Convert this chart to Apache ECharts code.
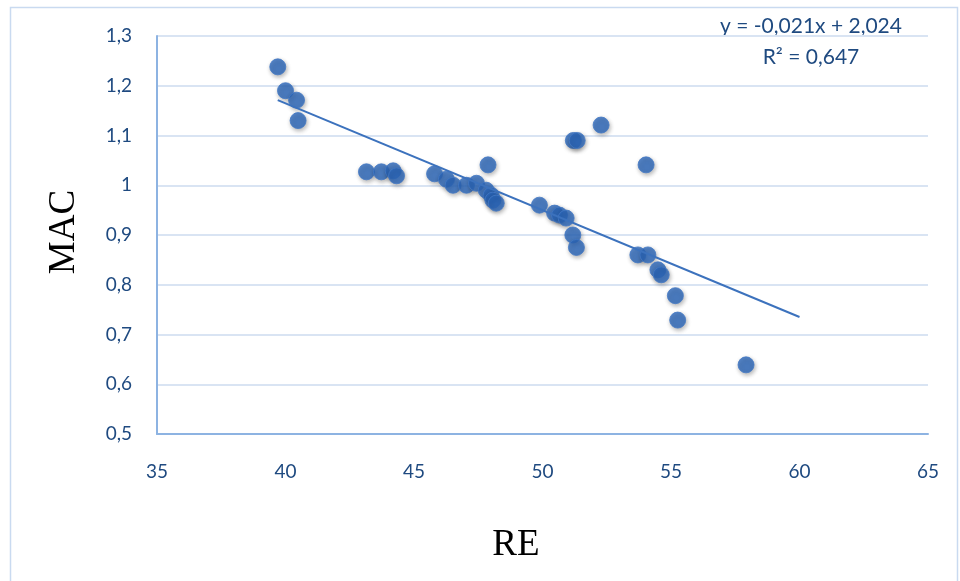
<!DOCTYPE html>
<html>
<head>
<meta charset="utf-8">
<script src="https://cdn.jsdelivr.net/npm/echarts@6/dist/echarts.min.js"></script>
<style>
  html, body { margin: 0; padding: 0; background: #fff; }
  #chart { width: 960px; height: 581px; }
</style>
</head>
<body>
<div id="chart"></div>
<script>
// RE (x) and MAC (y) observations
const reValues = [
  39.70, 40.00, 40.43, 40.49, 43.15, 43.73, 44.19, 44.32, 45.80, 46.26,
  46.52, 47.04, 47.43, 47.88, 47.81, 48.00, 48.07, 48.20, 49.88, 50.47,
  50.66, 50.92, 51.18, 51.32, 51.20, 51.35, 52.28, 54.03, 53.71, 54.10,
  54.49, 54.62, 55.17, 55.26, 57.92
];
const macValues = [
  1.238, 1.190, 1.171, 1.130, 1.027, 1.027, 1.029, 1.019, 1.023, 1.012,
  1.000, 1.000, 1.004, 1.041, 0.990, 0.980, 0.970, 0.964, 0.960, 0.944,
  0.940, 0.934, 0.900, 0.875, 1.090, 1.090, 1.121, 1.041, 0.860, 0.860,
  0.830, 0.820, 0.778, 0.729, 0.639
];

// Linear trend: MAC = slope * RE + intercept, extended forward to forecastTo
const trendSlope = -0.02148;
const trendIntercept = 2.024;
const trendR2 = 0.647;
const forecastTo = 60;

// Axis tick settings
const xTicks = { min: 35, max: 65, step: 5 };
const yTicks = { min: 0.5, max: 1.3, step: 0.1 };

const points = reValues.map((x, i) => [x, macValues[i]]);
const xStart = Math.min(...reValues);
const trendLine = [
  [xStart, trendSlope * xStart + trendIntercept],
  [forecastTo, trendSlope * forecastTo + trendIntercept]
];

const comma = v => String(v).replace('.', ',');
const fmt3 = v => v.toFixed(3).replace('.', ',');
const eqText = 'y = ' + fmt3(trendSlope) + 'x + ' + fmt3(trendIntercept);
const r2Text = 'R² = ' + fmt3(trendR2);

const labelColor = '#1f4a80';
const uiFont = 'Lato, "Open Sans", sans-serif';

const chart = echarts.init(document.getElementById('chart'), null, { renderer: 'canvas' });
chart.setOption({
  animation: false,
  backgroundColor: '#ffffff',
  grid: { left: 157, right: 32, top: 36, bottom: 147, containLabel: false },
  xAxis: {
    type: 'value',
    min: xTicks.min, max: xTicks.max, interval: xTicks.step,
    axisLine: { show: true, lineStyle: { color: '#8db3e2', width: 2 } },
    axisTick: { show: false },
    splitLine: { show: false },
    axisLabel: {
      margin: 28, color: labelColor, fontSize: 19, fontFamily: uiFont,
      formatter: v => comma(v)
    }
  },
  yAxis: {
    type: 'value',
    min: yTicks.min, max: yTicks.max, interval: yTicks.step,
    axisLine: { show: true, lineStyle: { color: '#8db3e2', width: 2 } },
    axisTick: { show: false },
    splitLine: { show: true, lineStyle: { color: '#d9e4f3', width: 2 } },
    axisLabel: {
      margin: 25, color: labelColor, fontSize: 19, fontFamily: uiFont,
      formatter: v => comma(Math.round(v * 10) / 10)
    }
  },
  series: [
    {
      type: 'line',
      data: trendLine,
      symbol: 'none',
      lineStyle: { color: '#3c72bd', width: 2 },
      z: 3
    },
    {
      type: 'scatter',
      data: points,
      symbol: 'circle',
      symbolSize: 16,
      itemStyle: {
        color: '#2c68bb',
        borderColor: '#4479c6',
        borderWidth: 1,
        shadowColor: 'rgba(0,0,0,0.35)',
        shadowBlur: 4,
        shadowOffsetX: 1,
        shadowOffsetY: 2
      },
      z: 2
    }
  ],
  graphic: [
    {
      type: 'rect',
      shape: { x: 10.5, y: 7.5, width: 947, height: 600 },
      style: { fill: 'none', stroke: '#c9daf0', lineWidth: 1.5 },
      silent: true, z: -1
    },
    {
      type: 'text', x: 811, y: 26,
      style: {
        text: eqText, fill: labelColor, fontSize: 21, fontFamily: uiFont,
        align: 'center', verticalAlign: 'middle'
      }
    },
    {
      type: 'text', x: 811, y: 57,
      style: {
        text: r2Text, fill: labelColor, fontSize: 21, fontFamily: uiFont,
        align: 'center', verticalAlign: 'middle'
      }
    },
    {
      type: 'text', x: 64, y: 232, rotation: Math.PI / 2,
      style: {
        text: 'MAC', fill: '#000', fontSize: 37,
        fontFamily: '"Liberation Serif", "Times New Roman", serif',
        align: 'center', verticalAlign: 'middle'
      }
    },
    {
      type: 'text', x: 516, y: 545,
      style: {
        text: 'RE', fill: '#000', fontSize: 37,
        fontFamily: '"Liberation Serif", "Times New Roman", serif',
        align: 'center', verticalAlign: 'middle'
      }
    }
  ]
});
</script>
</body>
</html>
